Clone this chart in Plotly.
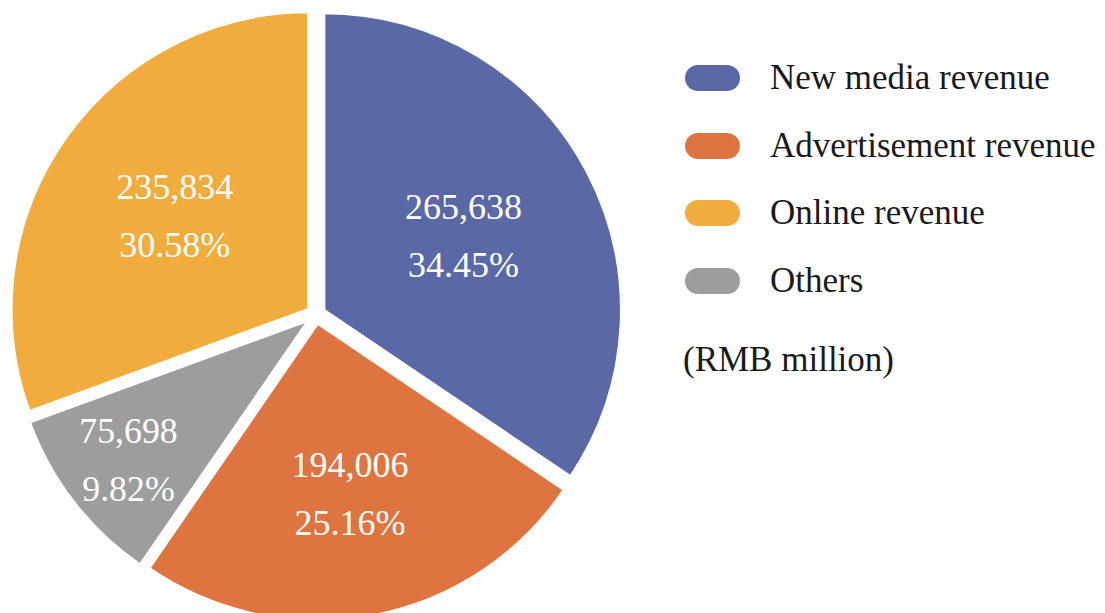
import plotly.graph_objects as go

# slice order around the pie (clockwise from 12 o'clock)
labels = ["New media revenue", "Advertisement revenue", "Others", "Online revenue"]
values = [265638, 194006, 75698, 235834]
colors = ["#5A69A5", "#DE7541", "#9D9D9D", "#F0AC3C"]

# legend order as shown on the right
legend_labels = ["New media revenue", "Advertisement revenue", "Online revenue", "Others"]
unit_note = "(RMB million)"

W, H = 1105, 613
FONT = "Liberation Serif"

fig = go.Figure()
fig.add_trace(go.Pie(
    labels=labels,
    values=values,
    sort=False,
    direction="clockwise",
    rotation=0,
    pull=0.03,
    marker=dict(colors=colors, line=dict(color="white", width=3)),
    texttemplate="<span style='font-size:36px'>%{value:,}</span><br>"
                 "<span style='font-size:36px'>%{percent:.2%}</span>",
    textposition="inside",
    insidetextorientation="horizontal",
    textfont=dict(family=FONT, size=44.6, color="white"),
    domain=dict(x=[0, 616 / W], y=[0, 1]),
    showlegend=False,
    hoverinfo="label+value+percent",
))

# hand-drawn legend with pill markers (page body adds an 8px offset)
color_of = dict(zip(labels, colors))
shapes = []
annotations = []
px, pw, ph = 677, 55, 26
row_y = [70, 138, 205, 273]


def fx(x):
    return x / W


def fy(y):
    return 1 - y / H


for name, yc in zip(legend_labels, row_y):
    c = color_of[name]
    r = ph / 2
    shapes.append(dict(type="rect", xref="paper", yref="paper",
                       x0=fx(px + r), x1=fx(px + pw - r), y0=fy(yc - r), y1=fy(yc + r),
                       fillcolor=c, line=dict(width=0)))
    for cx in (px + r, px + pw - r):
        shapes.append(dict(type="circle", xref="paper", yref="paper",
                           x0=fx(cx - r), x1=fx(cx + r), y0=fy(yc - r), y1=fy(yc + r),
                           fillcolor=c, line=dict(width=0)))
    annotations.append(dict(text=name, xref="paper", yref="paper",
                            x=fx(760), y=fy(yc), xanchor="left", yanchor="middle",
                            showarrow=False, font=dict(family=FONT, size=35, color="#1a1a1a")))

annotations.append(dict(text=unit_note, xref="paper", yref="paper",
                        x=fx(673), y=fy(352), xanchor="left", yanchor="middle",
                        showarrow=False, font=dict(family=FONT, size=35, color="#1a1a1a")))

fig.update_layout(
    width=W, height=H,
    margin=dict(l=0, r=0, t=0, b=0),
    paper_bgcolor="white",
    plot_bgcolor="white",
    font=dict(family=FONT),
    shapes=shapes,
    annotations=annotations,
)

fig.write_html("out.html")
